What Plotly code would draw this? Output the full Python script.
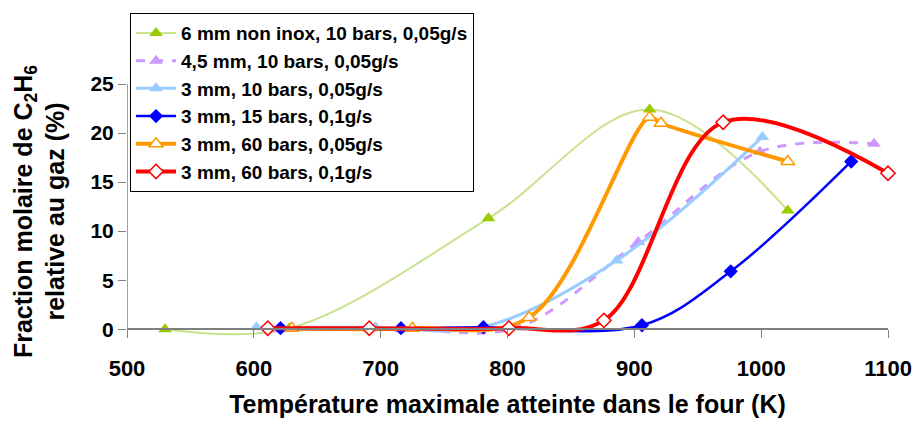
import plotly.graph_objects as go

# Data
names = [
    "6 mm non inox, 10 bars, 0,05g/s",
    "4,5 mm, 10 bars, 0,05g/s",
    "3 mm, 10 bars, 0,05g/s",
    "3 mm, 15 bars, 0,1g/s",
    "3 mm, 60 bars, 0,05g/s",
    "3 mm, 60 bars, 0,1g/s",
]
x_green = [530, 628, 785, 912, 1021]
y_green = [0.0, 0.1, 11.3, 22.4, 12.1]

x_purple = [620, 716, 808, 903, 999, 1089]
y_purple = [0.0, 0.0, 0.2, 8.9, 18.1, 18.9]

x_lblue = [602, 696, 780, 886, 1001]
y_lblue = [0.2, 0.2, 0.2, 7.0, 19.6]

x_blue = [621, 716, 781, 906, 976, 1071]
y_blue = [0.1, 0.1, 0.2, 0.4, 5.9, 17.1]

x_orange = [630, 725, 817, 912, 921, 1021]
y_orange = [0.1, 0.1, 1.2, 21.6, 21.0, 17.1]

x_red = [611, 691, 801, 876, 970, 1100]
y_red = [0.1, 0.1, 0.1, 0.9, 21.1, 15.9]

x_ticks = [500, 600, 700, 800, 900, 1000, 1100]
y_ticks = [0, 5, 10, 15, 20, 25]

FONT = "Liberation Sans"

fig = go.Figure()

def add(x, y, name, lcolor, lwidth, dash, symbol, msize, mfill, mline, mlw):
    fig.add_trace(go.Scatter(
        x=x, y=y, name=name, mode="lines+markers",
        line=dict(color=lcolor, width=lwidth, dash=dash, shape="spline", smoothing=1.0),
        marker=dict(symbol=symbol, size=msize, color=mfill,
                    line=dict(color=mline, width=mlw)),
        cliponaxis=False,
    ))

add(x_green, y_green, names[0], "#c8e28e", 2, "solid", "triangle-up", 12, "#99cc00", "#99cc00", 0)
add(x_purple, y_purple, names[1], "#cc99ff", 3, "dash", "triangle-up", 12, "#cc99ff", "#cc99ff", 0)
add(x_lblue, y_lblue, names[2], "#99ccff", 3, "solid", "triangle-up", 12, "#99ccff", "#99ccff", 0)
add(x_blue, y_blue, names[3], "#0000ff", 2.5, "solid", "diamond", 11, "#0000ff", "#0000ff", 0)
add(x_orange, y_orange, names[4], "#ff9900", 4, "solid", "triangle-up", 12, "white", "#ff9900", 1.5)
add(x_red, y_red, names[5], "#ff0000", 4, "solid", "diamond", 11, "white", "#ff0000", 1.5)

ymin, ymax = -1, 25

fig.update_layout(
    width=920, height=423,
    margin=dict(l=119, r=40, t=76, b=92, autoexpand=False),
    paper_bgcolor="white", plot_bgcolor="white",
    font=dict(family=FONT, color="black"),
    showlegend=True,
    legend=dict(
        x=0.004, y=1.278, xanchor="left", yanchor="top",
        bgcolor="white", bordercolor="black", borderwidth=1,
        font=dict(family=FONT, size=19, color="black", weight="bold"),
        tracegroupgap=0, itemwidth=40,
        entrywidthmode="pixels", entrywidth=414,
    ),
    xaxis=dict(
        range=[500, 1100], tickvals=x_ticks, ticktext=[str(v) for v in x_ticks],
        showgrid=False, zeroline=False, showline=True, linecolor="#808080", linewidth=1.5,
        ticks="outside", ticklen=8, tickcolor="#808080", automargin=False,
        ticklabelstandoff=12,
        anchor="free", position=(0 - ymin) / (ymax - ymin),
        tickfont=dict(family=FONT, size=22, weight="bold"),
        title=dict(text="Température maximale atteinte dans le four (K)",
                   font=dict(family=FONT, size=25, weight="bold"), standoff=14),
    ),
    yaxis=dict(
        range=[ymin, ymax], tickvals=y_ticks, ticktext=[str(v) for v in y_ticks],
        showgrid=False, zeroline=False, showline=False, automargin=False,
        ticks="outside", ticklen=8, tickcolor="#808080",
        tickfont=dict(family=FONT, size=21, weight="bold"),
        title=dict(text="Fraction molaire de C<sub>2</sub>H<sub>6</sub><br>relative au gaz (%)",
                   font=dict(family=FONT, size=25, weight="bold"), standoff=18),
    ),
)

# y axis line from 0 to the top
fig.add_shape(type="line", xref="x", yref="y", x0=500, x1=500, y0=0, y1=ymax,
              line=dict(color="#808080", width=1.5), layer="below")

fig.write_html("out.html")
